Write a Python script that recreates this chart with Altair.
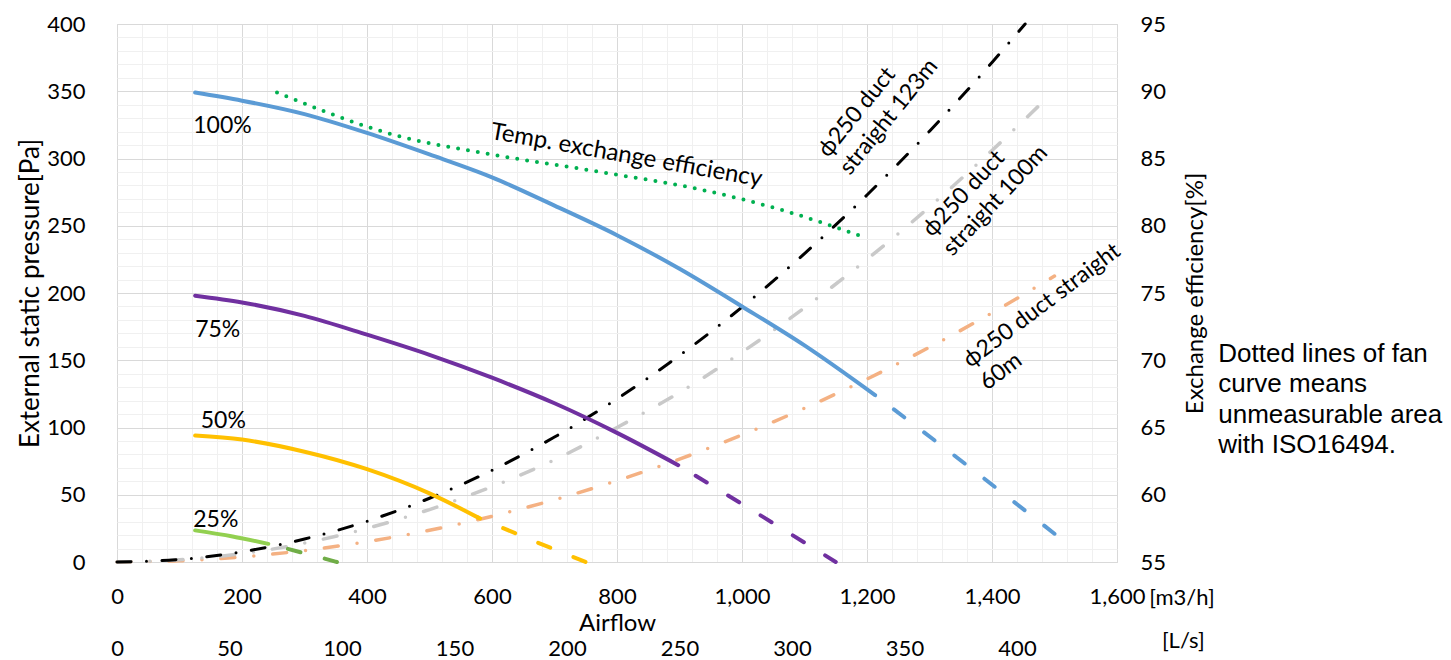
import altair as alt
import pandas as pd

# ---------------- data ----------------
# fan curves: airflow [m3/h] vs external static pressure [Pa]
fan100_q = [125, 200, 300, 400, 500, 600, 700, 800, 900, 1000, 1100, 1213]
fan100_p = [349, 343, 333, 319, 303, 286, 265, 243, 218, 190, 161, 124]
fan100x_q = [1213, 1357, 1500]
fan100x_p = [124, 73, 21]

fan75_q = [125, 200, 300, 400, 500, 600, 700, 800, 898]
fan75_p = [198, 193, 183, 169, 154, 137, 118, 96, 72]
fan75x_q = [898, 1025, 1150]
fan75x_p = [72, 36, 0]

fan50_q = [125, 200, 300, 400, 500, 578]
fan50_p = [94, 91, 82, 69, 51, 33]
fan50x_q = [578, 665, 750]
fan50x_p = [33, 16, 0]

fan25_q = [125, 185, 242]
fan25_p = [23.5, 19, 13.5]
fan25x_q = [242, 300, 352]
fan25x_p = [13.5, 6.5, 0]

# temperature exchange efficiency [%]
eff_q = [256, 448, 600, 773, 933, 1069, 1198]
eff_v = [89.9, 86.7, 85.3, 84.0, 82.7, 81.1, 79.1]

# duct resistance curves
duct123_q = [0, 100, 200, 300, 400, 500, 600, 700, 800, 900, 1000, 1100, 1200, 1300, 1400, 1453]
duct123_p = [0, 1.9, 7.6, 17.1, 30.3, 47.4, 68.2, 92.9, 121.3, 153.5, 189.5, 229.3, 272.9, 320.3, 371.4, 400]
duct100_q = [0, 100, 200, 300, 400, 500, 600, 700, 800, 900, 1000, 1100, 1200, 1300, 1400, 1490]
duct100_p = [0, 1.6, 6.2, 14, 25, 39, 56, 76, 100, 126, 156, 189, 225, 264, 306, 346]
duct60_q = [0, 100, 200, 300, 400, 500, 600, 700, 800, 900, 1000, 1100, 1200, 1300, 1400, 1500]
duct60_p = [0, 0.9, 3.8, 8.5, 15.1, 23.6, 34, 46.3, 60.5, 76.5, 94.5, 114.3, 136, 159.7, 185.2, 212.6]

# axes
x_ticks = [0, 200, 400, 600, 800, 1000, 1200, 1400, 1600]
x_minor = [v for v in range(40, 1600, 40) if v % 200 != 0]
y_ticks = [0, 50, 100, 150, 200, 250, 300, 350, 400]
y_minor = [v for v in range(10, 400, 10) if v % 50 != 0]
eff_ticks = [55, 60, 65, 70, 75, 80, 85, 90, 95]
ls_ticks = [0, 50, 100, 150, 200, 250, 300, 350, 400]
LS_MAX = 1600 / 3.6

FONT = "Lato"


def xs():
    return alt.Scale(domain=[0, 1600], nice=False, zero=False)


def ys():
    return alt.Scale(domain=[0, 400], nice=False, zero=False)


def line(q, p, color, width, dash=None, offset=None):
    kw = dict(color=color, strokeWidth=width, strokeCap="round", interpolate="monotone")
    if dash is not None:
        kw["strokeDash"] = dash
    if offset is not None:
        kw["strokeDashOffset"] = offset
    return alt.Chart(pd.DataFrame({"q": q, "p": p})).mark_line(**kw).encode(
        x=alt.X("q:Q", scale=xs(), axis=None),
        y=alt.Y("p:Q", scale=ys(), axis=None),
    )


def label(t, q, p, size=23, angle=0, align="left", baseline="alphabetic", font=FONT, lh=None):
    kw = dict(font=font, fontSize=size, align=align, baseline=baseline, color="black", lineBreak="\n")
    if angle:
        kw["angle"] = angle
    if lh:
        kw["lineHeight"] = lh
    return alt.Chart(pd.DataFrame({"q": [q], "p": [p], "t": [t]})).mark_text(**kw).encode(
        x=alt.X("q:Q", scale=xs(), axis=None),
        y=alt.Y("p:Q", scale=ys(), axis=None),
        text="t:N",
    )


corners = pd.DataFrame({"q": [0, 1600], "p": [0, 400]})

major = alt.Chart(corners).mark_point(opacity=0).encode(
    x=alt.X("q:Q", scale=xs(), axis=alt.Axis(
        orient="bottom", values=x_ticks, format=",.0f", grid=True, gridColor="#D9D9D9",
        labelPadding=24, labelFlush=False, labelOverlap=False, title="Airflow",
        titlePadding=4, titleFontSize=24)),
    y=alt.Y("p:Q", scale=ys(), axis=alt.Axis(
        orient="left", values=y_ticks, grid=True, gridColor="#D9D9D9",
        labelPadding=32, labelFlush=False, labelOverlap=False,
        title="External static pressure[Pa]", titlePadding=3, titleFontSize=26)),
)

minor = alt.Chart(corners).mark_point(opacity=0).encode(
    x=alt.X("q:Q", scale=xs(), axis=alt.Axis(
        orient="bottom", values=x_minor, grid=True, gridColor="#F0F0F0",
        labels=False, title=None)),
    y=alt.Y("p:Q", scale=ys(), axis=alt.Axis(
        orient="left", values=y_minor, grid=True, gridColor="#F0F0F0",
        labels=False, title=None)),
)

ls_axis = alt.Chart(pd.DataFrame({"ls": [0, LS_MAX]})).mark_point(opacity=0).encode(
    x=alt.X("ls:Q", scale=alt.Scale(domain=[0, LS_MAX], nice=False, zero=False), axis=alt.Axis(
        orient="bottom", values=ls_ticks, offset=52, grid=False, labelPadding=24,
        labelFlush=False, labelOverlap=False, title=None)),
    y=alt.value(0),
)

eff_line = alt.Chart(pd.DataFrame({"q": eff_q, "e": eff_v})).mark_line(
    color="#00B050", strokeWidth=4, strokeCap="round", strokeDash=[0, 10], interpolate="monotone"
).encode(
    x=alt.X("q:Q", scale=xs(), axis=None),
    y=alt.Y("e:Q", scale=alt.Scale(domain=[55, 95], nice=False, zero=False), axis=alt.Axis(
        orient="right", values=eff_ticks, grid=False, labelPadding=23, labelFlush=False,
        labelOverlap=False, title="Exchange efficiency[%]", titleAngle=270,
        titleBaseline="top", titlePadding=18, titleFontSize=24)),
)

FAN_DASH = [13, 25]

layers = [
    minor, major, ls_axis,
    line(duct60_q, duct60_p, "#F4B183", 3.5, [14, 19, 0, 19]),
    line(duct100_q, duct100_p, "#C9C9C9", 3.5, [14, 19, 0, 19]),
    line(duct123_q, duct123_p, "#000000", 3, [14, 15.5, 0, 15.5]),
    line(fan25_q, fan25_p, "#92D050", 4),
    line(fan25x_q, fan25x_p, "#70AD47", 4, FAN_DASH, 17.7),
    line(fan50_q, fan50_p, "#FFC000", 4),
    line(fan50x_q, fan50x_p, "#FFC000", 4, FAN_DASH, 11),
    line(fan75_q, fan75_p, "#7030A0", 4),
    line(fan75x_q, fan75x_p, "#7030A0", 4, FAN_DASH, 17.6),
    line(fan100_q, fan100_p, "#5B9BD5", 4),
    line(fan100x_q, fan100x_p, "#5B9BD5", 4, FAN_DASH, 14.4),
    eff_line,
    label("100%", 122, 319),
    label("75%", 125, 167),
    label("50%", 134, 100),
    label("25%", 122, 26),
    label("Temp. exchange efficiency", 813, 297, size=24, angle=10, align="center"),
    label("ϕ250 duct\nstraight 123m", 1138, 300, size=23, angle=309, lh=28),
    label("ϕ250 duct\nstraight 100m", 1304, 241, size=23, angle=313, lh=28),
    label("ϕ250 duct straight\n60m", 1365, 144, size=23, angle=323, lh=28),
    label("[m3/h]", 1704, -27, size=22, align="center", baseline="middle"),
    label("[L/s]", 1706, -59, size=22, align="center", baseline="middle"),
    label("Dotted lines of fan\ncurve means\nunmeasurable area\nwith ISO16494.", 1762, 149,
          size=26, font="Liberation Sans", lh=30.6),
]

chart = alt.layer(*layers).resolve_scale(
    x="independent", y="independent"
).properties(
    width=1000, height=538,
    autosize=alt.AutoSizeParams(type="none"),
    padding={"left": 109, "top": 16, "right": 326, "bottom": 98},
).configure_view(
    stroke="#D9D9D9", strokeWidth=1
).configure_axis(
    labelFont=FONT, labelFontSize=22, labelColor="black",
    titleFont=FONT, titleFontWeight="normal", titleColor="black",
    ticks=False, domain=False,
)

chart.save("out.html", embed_options={"renderer": "svg", "actions": False})
